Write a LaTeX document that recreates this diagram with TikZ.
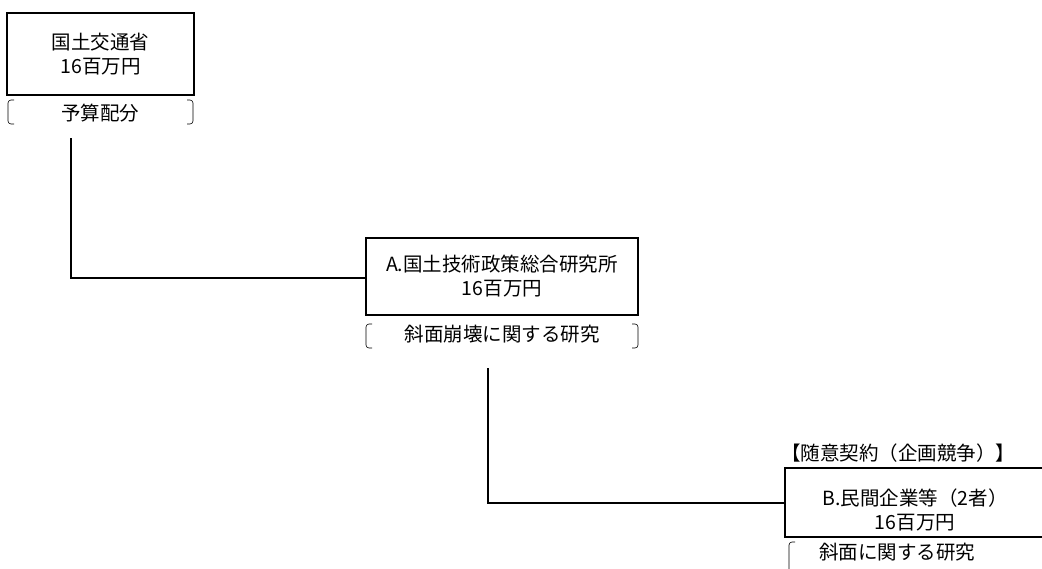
\documentclass[tikz,border=0pt]{standalone}
\usepackage{fontspec}
\setmainfont{Noto Sans CJK JP}
\begin{document}
\begin{tikzpicture}[x=1pt, y=-1pt,
    box/.style = {draw, line width=1.6pt, align=center, inner sep=0pt, font=\fontsize{19.5}{24}\selectfont},
    txt/.style = {inner sep=0pt, font=\fontsize{19.5}{24}\selectfont},
    link/.style = {line width=2pt},
    brkt/.style = {line width=0.6pt, rounded corners=3pt}]
    \useasboundingbox (0,0) rectangle (1042,568);
    \clip (0,0) rectangle (1042,568);

    \node[box, minimum width=187pt, minimum height=82pt] (mlit) at (100.5, 54) {国土交通省\\16百万円};
    \node[txt] (mlitjob) at (100, 113) {予算配分};

    \node[box, minimum width=272pt, minimum height=77pt] (nilim) at (502, 276.5) {A.国土技術政策総合研究所\\16百万円};
    \node[txt] (nilimjob) at (502, 334) {斜面崩壊に関する研究};

    \node[box, minimum width=260pt, minimum height=69pt] (corp) at (915, 502.5) {\raisebox{-15pt}[0pt][0pt]{\begin{tabular}{@{}c@{}}B.民間企業等（2者）\\16百万円\end{tabular}}};
    \node[txt, anchor=west] (contract) at (781, 453) {【随意契約（企画競争）】};
    \node[txt] (corpjob) at (897, 552) {斜面に関する研究};

    % brackets
    \draw[brkt] (14, 100) -- (8, 100) -- (8, 124) -- (14, 124);
    \draw[brkt] (187, 100) -- (193, 100) -- (193, 124) -- (187, 124);
    \draw[brkt] (372, 324) -- (366, 324) -- (366, 348) -- (372, 348);
    \draw[brkt] (632, 324) -- (638, 324) -- (638, 348) -- (632, 348);
    \draw[brkt] (795, 542) -- (789, 542) -- (789, 575);

    % connectors
    \coordinate (t1) at (71, 138);
    \coordinate (t2) at (488, 368);
    \draw[link] (t1) |- (nilim.west |- 0, 278);
    \draw[link] (t2) |- (corp.west |- 0, 503);
\end{tikzpicture}
\end{document}
